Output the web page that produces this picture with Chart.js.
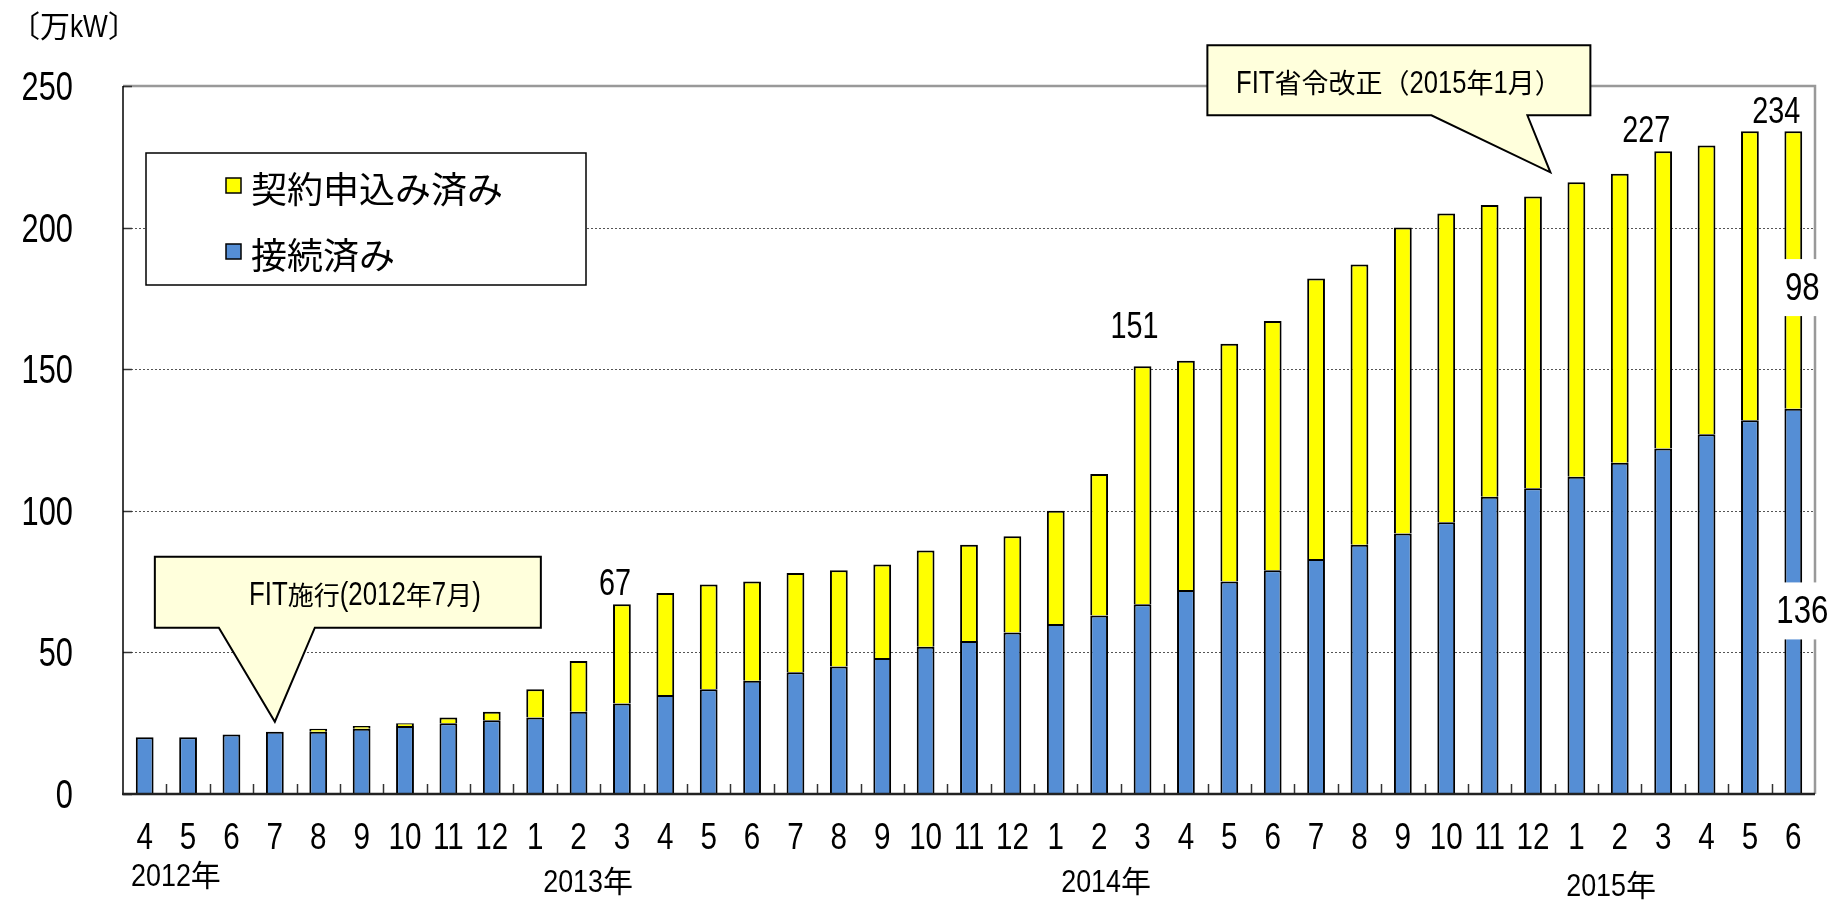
<!DOCTYPE html>
<html lang="ja">
<head>
<meta charset="utf-8">
<title>太陽光 接続済み・契約申込み済み</title>
<script src="https://cdn.jsdelivr.net/npm/chart.js@4.4.1/dist/chart.umd.min.js"></script>
<style>
    html, body { margin: 0; padding: 0; background: #fff; }
    #wrap { width: 1835px; height: 900px; }
</style>
</head>
<body>
<div id="wrap"><canvas id="chart" width="1835" height="900"></canvas></div>
<script>
// month labels, 2012/4 .. 2015/6
const months = [
    "4", "5", "6", "7", "8", "9", "10", "11", "12",
    "1", "2", "3", "4", "5", "6", "7", "8", "9", "10", "11", "12",
    "1", "2", "3", "4", "5", "6", "7", "8", "9", "10", "11", "12",
    "1", "2", "3", "4", "5", "6"
];
const years = ["2012年", "2013年", "2014年", "2015年"];
const yTicks = [0, 50, 100, 150, 200, 250];

// 接続済み (万kW)
const connected = [
    20, 20, 21, 22, 22, 23, 24, 25, 26,
    27, 29, 32, 35, 37, 40, 43, 45, 48, 52, 54, 57,
    60, 63, 67, 72, 75, 79, 83, 88, 92, 96, 105, 108,
    112, 117, 122, 127, 132, 136
];
// 接続済み + 契約申込み済み (万kW)
const totals = [
    20, 20, 21, 22, 23, 24, 25, 27, 29,
    37, 47, 67, 71, 74, 75, 78, 79, 81, 86, 88, 91,
    100, 113, 151, 153, 159, 167, 182, 187, 200, 205, 208, 211,
    216, 219, 227, 229, 234, 234
];

const seriesNames = ["契約申込み済み", "接続済み"];
const unitLabel = "〔万kW〕";
const notes = [
    { month: 3, text: "FIT施行(2012年7月)" },
    { month: 33, text: "FIT省令改正（2015年1月）" }
];
const topLabels = [11, 23, 35, 38];   // bars with the total written above

const applied = totals.map((t, i) => t - connected[i]);

const LATIN_FONT = '"Liberation Sans", Arial, sans-serif';
const JP_FONT = '"Noto Sans CJK JP", sans-serif';
const BLUE = "#558ed5";
const YELLOW = "#ffff00";
const CJK = /[\u3000-\u9fff\uff00-\uffef]/;

// the original uses a narrow gothic face, so latin runs are squeezed sideways
const drawText = (ctx, text, x, y, align, st) => {
    const runs = [];
    for (const ch of text) {
        const c = CJK.test(ch);
        const last = runs[runs.length - 1];
        if (last && last.c === c) last.t += ch;
        else runs.push({ c, t: ch });
    }
    const fontOf = (r) => (r.c ? `${st.cjk || st.size}px ${JP_FONT}` : `${st.size}px ${LATIN_FONT}`);
    const sxOf = (r) => (r.c ? 1 : st.sx);
    let total = 0;
    runs.forEach((r) => {
        ctx.font = fontOf(r);
        r.w = ctx.measureText(r.t).width * sxOf(r);
        total += r.w;
    });
    let cx = align === "center" ? x - total / 2 : align === "right" ? x - total : x;
    ctx.textAlign = "left";
    ctx.textBaseline = "alphabetic";
    runs.forEach((r) => {
        ctx.font = fontOf(r);
        ctx.save();
        ctx.translate(cx, y);
        ctx.scale(sxOf(r), 1);
        ctx.fillText(r.t, 0, 0);
        ctx.restore();
        cx += r.w;
    });
    return total;
};

const framePlugin = {
    id: "frame",
    beforeDatasetsDraw(chart) {
        const { ctx, chartArea: a, scales: { y } } = chart;
        ctx.save();
        ctx.strokeStyle = "#555";
        ctx.lineWidth = 1;
        ctx.setLineDash([2, 2]);
        yTicks.forEach((v) => {
            if (v === 0 || v === 250) return;
            const py = Math.round(y.getPixelForValue(v)) + 0.5;
            ctx.beginPath();
            ctx.moveTo(a.left, py);
            ctx.lineTo(a.right, py);
            ctx.stroke();
        });
        ctx.setLineDash([]);
        ctx.strokeStyle = "#999";
        ctx.lineWidth = 2.5;
        ctx.beginPath();
        ctx.moveTo(a.left, a.top);
        ctx.lineTo(a.right, a.top);
        ctx.lineTo(a.right, a.bottom);
        ctx.stroke();
        ctx.restore();
    },
    afterDatasetsDraw(chart) {
        const { ctx, chartArea: a, scales: { x, y } } = chart;
        ctx.save();
        // short ticks pointing into the plot
        ctx.strokeStyle = "#333";
        ctx.lineWidth = 1.5;
        for (let i = 1; i < months.length; i++) {
            const px = Math.round((x.getPixelForValue(i - 1) + x.getPixelForValue(i)) / 2) + 0.5;
            ctx.beginPath();
            ctx.moveTo(px, a.bottom);
            ctx.lineTo(px, a.bottom - 10);
            ctx.stroke();
        }
        yTicks.forEach((v) => {
            const py = Math.round(y.getPixelForValue(v)) + 0.5;
            ctx.beginPath();
            ctx.moveTo(a.left, py);
            ctx.lineTo(a.left + 9, py);
            ctx.stroke();
        });
        // axis lines
        ctx.strokeStyle = "#000";
        ctx.lineWidth = 1.5;
        ctx.beginPath();
        ctx.moveTo(a.left, a.top);
        ctx.lineTo(a.left, a.bottom);
        ctx.stroke();
        ctx.strokeStyle = "#222";
        ctx.lineWidth = 2.5;
        ctx.beginPath();
        ctx.moveTo(a.left - 1, a.bottom);
        ctx.lineTo(a.right, a.bottom);
        ctx.stroke();
        ctx.restore();
    }
};

const drawCallout = (ctx, box, base, tip, text, dx, style) => {
    ctx.save();
    ctx.beginPath();
    ctx.moveTo(box.x0, box.y0);
    ctx.lineTo(box.x1, box.y0);
    ctx.lineTo(box.x1, box.y1);
    ctx.lineTo(base.x1, box.y1);
    ctx.lineTo(tip.x, tip.y);
    ctx.lineTo(base.x0, box.y1);
    ctx.lineTo(box.x0, box.y1);
    ctx.closePath();
    ctx.fillStyle = "#ffffdc";
    ctx.fill();
    ctx.strokeStyle = "#000";
    ctx.lineWidth = 2;
    ctx.stroke();
    ctx.fillStyle = "#000";
    drawText(ctx, text, (box.x0 + box.x1) / 2 + dx, (box.y0 + box.y1) / 2 + 13, "center", style);
    ctx.restore();
};

const labelPlugin = {
    id: "labels",
    afterDraw(chart) {
        const { ctx, chartArea: a, scales: { x, y } } = chart;
        ctx.save();
        ctx.fillStyle = "#000";

        // unit
        drawText(ctx, unitLabel, 10, 37, "left", { size: 32, sx: 0.82, cjk: 30 });

        // y tick labels
        yTicks.forEach((v) => {
            drawText(ctx, String(v), 73, y.getPixelForValue(v) + 14, "right", { size: 40, sx: 0.77 });
        });

        // month tick labels
        months.forEach((m, i) => {
            drawText(ctx, m, x.getPixelForValue(i), a.bottom + 55, "center", { size: 37, sx: 0.8 });
        });

        // year labels under the months
        const yearSpots = [0.72, 10.22, 22.16, 33.8];
        const yearDrop = [92, 98, 98, 102];
        years.forEach((t, k) => {
            drawText(ctx, t, x.getPixelForValue(yearSpots[k]), a.bottom + yearDrop[k], "center", { size: 32, sx: 0.84, cjk: 30 });
        });

        // totals above some bars
        const shift = { 11: [-7, 9], 23: [-8, 28], 35: [-17, 9], 38: [-17, 8] };
        topLabels.forEach((i) => {
            const [dx, gap] = shift[i];
            drawText(ctx, String(totals[i]), x.getPixelForValue(i) + dx, y.getPixelForValue(totals[i]) - gap, "center", { size: 36, sx: 0.8 });
        });

        // segment values on the last bar, on white
        const last = months.length - 1;
        const segs = [
            { text: String(applied[last]), mid: (totals[last] + connected[last]) / 2, dy: 30 },
            { text: String(connected[last]), mid: connected[last] / 2, dy: 22 }
        ];
        segs.forEach((s) => {
            const cx = x.getPixelForValue(last) + 9;
            const base = y.getPixelForValue(s.mid) + s.dy;
            ctx.font = `38px ${LATIN_FONT}`;
            const w = ctx.measureText(s.text).width * 0.82 + 12;
            ctx.fillStyle = "#fff";
            ctx.fillRect(cx - w / 2, base - 41, w, 57);
            ctx.fillStyle = "#000";
            drawText(ctx, s.text, cx, base, "center", { size: 38, sx: 0.82 });
        });

        // legend box
        ctx.fillStyle = "#fff";
        ctx.fillRect(146, 153, 440, 132);
        ctx.strokeStyle = "#000";
        ctx.lineWidth = 1.5;
        ctx.strokeRect(146, 153, 440, 132);
        const swatches = [YELLOW, BLUE];
        seriesNames.forEach((name, k) => {
            const cy = 186 + k * 66;
            ctx.fillStyle = swatches[k];
            ctx.fillRect(226, cy - 8, 15, 15);
            ctx.strokeStyle = "#000";
            ctx.lineWidth = 1.5;
            ctx.strokeRect(226, cy - 8, 15, 15);
            ctx.fillStyle = "#000";
            ctx.font = `36px ${JP_FONT}`;
            ctx.textAlign = "left";
            ctx.textBaseline = "middle";
            ctx.fillText(name, 251, cy + 3);
        });

        // callouts
        const n1 = notes[0];
        const t1 = { x: x.getPixelForValue(n1.month), y: y.getPixelForValue(totals[n1.month]) - 10 };
        drawCallout(ctx,
            { x0: t1.x - 120, x1: t1.x + 266, y0: t1.y - 165, y1: t1.y - 94 },
            { x0: t1.x - 56, x1: t1.x + 40 }, t1, n1.text, 17,
            { size: 34, sx: 0.76, cjk: 26 });

        const n2 = notes[1];
        const t2 = { x: x.getPixelForValue(n2.month) - 26, y: y.getPixelForValue(totals[n2.month]) - 10 };
        drawCallout(ctx,
            { x0: t2.x - 343, x1: t2.x + 40, y0: t2.y - 127, y1: t2.y - 57 },
            { x0: t2.x - 119, x1: t2.x - 23 }, t2, n2.text, 0,
            { size: 32, sx: 0.8, cjk: 27 });

        ctx.restore();
    }
};

new Chart(document.getElementById("chart"), {
    type: "bar",
    data: {
        labels: months,
        datasets: [
            {
                label: seriesNames[1],
                data: connected,
                backgroundColor: BLUE,
                borderColor: "#000",
                borderWidth: 2,
                barPercentage: 0.41,
                categoryPercentage: 1
            },
            {
                label: seriesNames[0],
                data: applied,
                backgroundColor: YELLOW,
                borderColor: "#000",
                borderWidth: 2,
                barPercentage: 0.41,
                categoryPercentage: 1
            }
        ]
    },
    options: {
        responsive: false,
        animation: false,
        devicePixelRatio: 1,
        layout: { padding: { top: 86, right: 20, left: 0, bottom: 0 } },
        plugins: {
            legend: { display: false },
            tooltip: { enabled: false }
        },
        scales: {
            x: {
                stacked: true,
                offset: true,
                grid: { display: false, drawTicks: false },
                border: { display: false },
                ticks: { display: false, autoSkip: false },
                afterFit: (s) => { s.height = 106; }
            },
            y: {
                stacked: true,
                min: 0,
                max: 250,
                grid: { display: false, drawTicks: false },
                border: { display: false },
                ticks: { display: false, stepSize: 50 },
                afterFit: (s) => { s.width = 123; }
            }
        }
    },
    plugins: [framePlugin, labelPlugin]
});
</script>
</body>
</html>
